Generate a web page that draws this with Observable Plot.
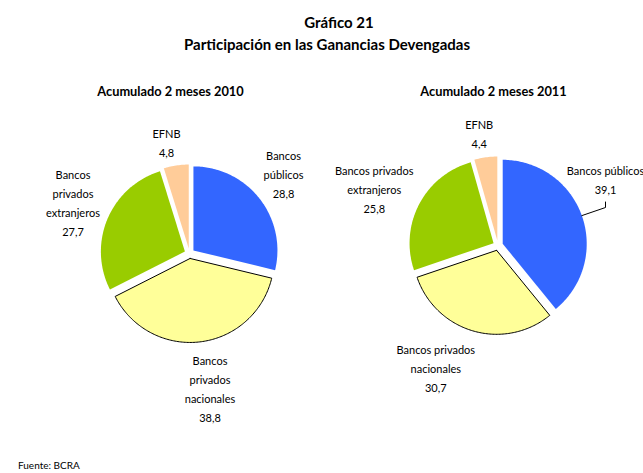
<!DOCTYPE html>
<html><head><meta charset="utf-8">
<script src="https://cdn.jsdelivr.net/npm/d3@7"></script>
<script src="https://cdn.jsdelivr.net/npm/@observablehq/plot@0.6"></script>
<style>
body{margin:0;background:#fff;width:643px;height:473px;overflow:hidden;position:relative;font-family:Lato,"Open Sans",sans-serif;color:#000;}
.ttl{position:absolute;width:400px;text-align:center;font-weight:bold;font-size:15px;line-height:18px;white-space:nowrap;}
#t1{left:139px;top:13px;}
#t2{left:127px;top:35px;}
#chart{position:absolute;left:0;top:60px;}
#src{position:absolute;left:18px;top:459px;font-size:10px;line-height:12px;}
</style></head><body>
<div class="ttl" id="t1">Gráfico 21</div>
<div class="ttl" id="t2">Participación en las Ganancias Devengadas</div>
<div id="chart"></div>
<div id="src">Fuente: BCRA</div>
<script>
// ---- data ----
const categories = ["Bancos públicos", "Bancos privados nacionales", "Bancos privados extranjeros", "EFNB"];
const values2010 = [28.8, 38.8, 27.7, 4.8];
const values2011 = [39.1, 30.7, 25.8, 4.4];
const labels2010 = ["Bancos\npúblicos", "Bancos\nprivados\nnacionales", "Bancos\nprivados\nextranjeros", "EFNB"];
const labels2011 = ["Bancos públicos", "Bancos privados\nnacionales", "Bancos privados\nextranjeros", "EFNB"];
const subtitles = ["Acumulado 2 meses 2010", "Acumulado 2 meses 2011"];
const colors = ["#3366FF", "#FFFF99", "#99CC00", "#FFCC99"];

// ---- layout (page pixel coordinates) ----
const R = 84, EXPLODE = 5;
const pies = [
  {year: "2010", values: values2010, labels: labels2010, cx: 189, cy: 253, sub: [170, 91],
   lab: [[283, 172.3], [209.5, 387.3], [72.5, 201], [166, 140.8]]},
  {year: "2011", values: values2011, labels: labels2011, cx: 497.5, cy: 245, sub: [493, 91],
   lab: [[605, 178.3], [435.3, 366.7], [373.7, 187.7], [478.7, 132.2]], leader: 0}
];

const slicePts = [], labelRows = [], leaderPts = [], subRows = [];
const fmt = v => v.toFixed(1).replace(".", ",");
pies.forEach((p, pi) => {
  subRows.push({x: p.sub[0], y: p.sub[1], text: subtitles[pi]});
  const arcs = d3.pie().sort(null)(p.values);
  arcs.forEach((a, i) => {
    const mid = (a.startAngle + a.endAngle) / 2;
    const ox = p.cx + EXPLODE * Math.sin(mid), oy = p.cy - EXPLODE * Math.cos(mid);
    const key = p.year + "-" + i;
    slicePts.push({key, i, x: ox, y: oy});
    const n = Math.max(2, Math.ceil((a.endAngle - a.startAngle) / (Math.PI / 180)));
    for (let k = 0; k <= n; k++) {
      const t = a.startAngle + (a.endAngle - a.startAngle) * k / n;
      slicePts.push({key, i, x: ox + R * Math.sin(t), y: oy - R * Math.cos(t)});
    }
    slicePts.push({key, i, x: ox, y: oy});
    labelRows.push({x: p.lab[i][0], y: p.lab[i][1], text: p.labels[i] + "\n" + fmt(p.values[i])});
    if (p.leader === i) {
      leaderPts.push({x: ox + R * Math.sin(mid), y: oy - R * Math.cos(mid)});
      leaderPts.push({x: 605, y: 207});
      leaderPts.push({x: 605, y: 201.5});
    }
  });
});

const H = 400, TOP = 60;
const chart = Plot.plot({
  width: 643, height: H, margin: 0,
  x: {domain: [0, 643], range: [0, 643], axis: null},
  y: {domain: [TOP, TOP + H], range: [0, H], axis: null},
  color: {type: "identity"},
  style: {fontFamily: "Lato, 'Open Sans', sans-serif", fontSize: "11px", background: "white", color: "black", overflow: "visible"},
  marks: [
    Plot.line(slicePts, {x: "x", y: "y", z: "key", fill: d => colors[d.i], stroke: "none", curve: "linear"}),
    Plot.line(slicePts.filter(d => d.i === 1), {x: "x", y: "y", z: "key", fill: "none", stroke: "black", strokeWidth: 1, curve: "linear"}),
    Plot.line(leaderPts, {x: "x", y: "y", stroke: "black", strokeWidth: 1, curve: "linear"}),
    Plot.text(labelRows, {x: "x", y: "y", text: "text", textAnchor: "middle", lineAnchor: "middle", lineHeight: 1.73, fontSize: 11, fill: "black"}),
    Plot.text(subRows, {x: "x", y: "y", text: "text", textAnchor: "middle", fontSize: 12.8, fontWeight: "bold", fill: "black"})
  ]
});
document.getElementById("chart").appendChild(chart);
</script>
</body></html>
